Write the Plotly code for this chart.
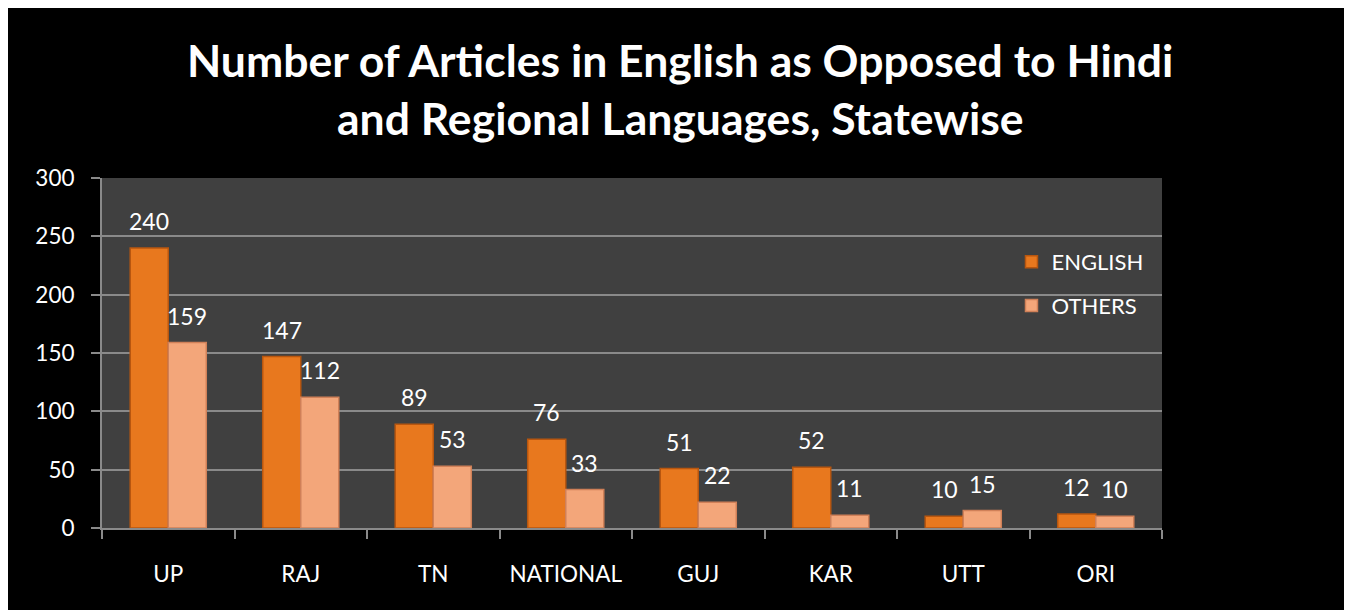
import plotly.graph_objects as go

categories = ["UP", "RAJ", "TN", "NATIONAL", "GUJ", "KAR", "UTT", "ORI"]
english = [240, 147, 89, 76, 51, 52, 10, 12]
others = [159, 112, 53, 33, 22, 11, 15, 10]
y_ticks = [0, 50, 100, 150, 200, 250, 300]

title_line1 = "Number of Articles in English as Opposed to Hindi"
title_line2 = "and Regional Languages, Statewise"

# page body has an 8px margin, so the figure is 8px smaller than the window
W, H = 1344, 602
ML, MR, MT, MB = 94, 190, 170, 82

FONT = "Lato"

fig = go.Figure()
fig.add_trace(go.Bar(
    name="ENGLISH", x=categories, y=english,
    marker=dict(color="#E8781E", line=dict(color="#B8560F", width=1.5)),
    legendgroup="a",
))
fig.add_trace(go.Bar(
    name="OTHERS", x=categories, y=others,
    marker=dict(color="#F3A67A", line=dict(color="#D08058", width=1.5)),
    legendgroup="b",
))

# data labels
for i, c in enumerate(categories):
    fig.add_annotation(x=c, y=english[i], text=str(english[i]), showarrow=False,
                       xshift=-19, yshift=27, yanchor="middle",
                       font=dict(family=FONT, size=23, color="white"))
    fig.add_annotation(x=c, y=others[i], text=str(others[i]), showarrow=False,
                       xshift=19, yshift=27, yanchor="middle",
                       font=dict(family=FONT, size=23, color="white"))

# title as paper annotation (centred on the full figure)
plot_w = W - ML - MR
plot_h = H - MT - MB
title_x = (W / 2 - ML) / plot_w
fig.add_annotation(xref="paper", yref="paper", x=title_x, y=(plot_h + MT - 52) / plot_h,
                   text="<b>" + title_line1 + "</b>", showarrow=False,
                   xanchor="center", yanchor="middle",
                   font=dict(family=FONT, size=44.5, color="white"))
fig.add_annotation(xref="paper", yref="paper", x=title_x, y=(plot_h + MT - 110) / plot_h,
                   text="<b>" + title_line2 + "</b>", showarrow=False,
                   xanchor="center", yanchor="middle",
                   font=dict(family=FONT, size=44.5, color="white"))

fig.update_layout(
    width=W, height=H,
    margin=dict(l=ML, r=MR, t=MT, b=MB),
    paper_bgcolor="black",
    plot_bgcolor="#404040",
    barmode="group",
    bargap=0.426,
    bargroupgap=0,
    font=dict(family=FONT, color="white", size=20),
    legend=dict(x=0.858, y=0.82, xanchor="left", yanchor="top",
                bgcolor="rgba(0,0,0,0)", font=dict(size=22, color="white"),
                tracegroupgap=12, traceorder="grouped", itemwidth=30),
    showlegend=True,
)
fig.update_xaxes(
    showgrid=False, showline=True, linecolor="#8a8a8a", linewidth=2,
    ticks="outside", tickson="boundaries", ticklen=9, tickcolor="#8a8a8a", tickwidth=2,
    ticklabelstandoff=25, tickfont=dict(size=22.5, color="white"),
)
fig.update_yaxes(
    range=[0, 300], tickvals=y_ticks, showgrid=True, gridcolor="#8a8a8a", gridwidth=1.5,
    showline=True, linecolor="#8a8a8a", linewidth=2, zeroline=False,
    ticks="outside", ticklen=9, tickcolor="#8a8a8a", tickwidth=2,
    ticklabelstandoff=12, tickfont=dict(size=22.5, color="white"),
)

fig.write_html("out.html")
